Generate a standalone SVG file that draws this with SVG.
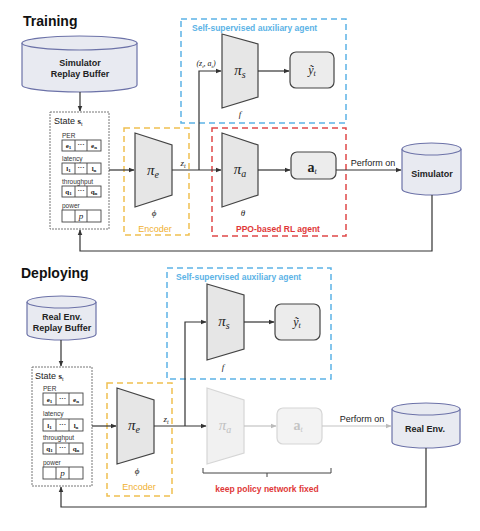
<svg xmlns="http://www.w3.org/2000/svg" width="480" height="531" viewBox="0 0 480 531">
<style>
.title{font-family:"Liberation Sans",Arial,sans-serif;font-weight:bold;font-size:14px;fill:#111}
.lbl{font-family:"Liberation Sans",Arial,sans-serif;font-weight:bold;font-size:9px;fill:#222;text-anchor:middle}
.sm{font-family:"Liberation Sans",Arial,sans-serif;font-size:6.5px;fill:#333}
.st{font-family:"Liberation Sans",Arial,sans-serif;font-size:9px;fill:#222}
.perf{font-family:"Liberation Sans",Arial,sans-serif;font-size:9px;fill:#222;text-anchor:middle}
.math{font-family:"Liberation Serif","Times New Roman",serif;font-style:italic;fill:#222;text-anchor:middle}
.bm{font-family:"Liberation Serif","Times New Roman",serif;font-weight:bold;fill:#222;text-anchor:middle}
.cell{font-family:"Liberation Serif",serif;font-weight:bold;font-size:7px;fill:#222;text-anchor:middle}
.cyl{fill:#e8eaf1;stroke:#6c72a8;stroke-width:1.2}
.trap{fill:#e6e6e6;stroke:#444;stroke-width:1.2}
.trapf{fill:#f1f1f1;stroke:#d6d6d6;stroke-width:1.2}
.rbox{fill:#ececec;stroke:#444;stroke-width:1.2}
.rboxf{fill:#f3f3f3;stroke:#d6d6d6;stroke-width:1.2}
.state{fill:#fff;stroke:#777;stroke-width:1;stroke-dasharray:2 1}
.row{fill:#fff;stroke:#444;stroke-width:0.9}
.blue{fill:none;stroke:#5cb3e6;stroke-width:1.5;stroke-dasharray:6 4}
.red{fill:none;stroke:#e04848;stroke-width:1.5;stroke-dasharray:6 4}
.yel{fill:none;stroke:#f0c050;stroke-width:1.5;stroke-dasharray:6 4}
.tb{font-family:"Liberation Sans",Arial,sans-serif;font-weight:bold;font-size:8.5px;fill:#5cb3e6}
.tr{font-family:"Liberation Sans",Arial,sans-serif;font-weight:bold;font-size:8.5px;fill:#e03838;text-anchor:middle}
.ty{font-family:"Liberation Sans",Arial,sans-serif;font-size:9px;fill:#f0b030;text-anchor:middle}
.c{fill:none;stroke:#333;stroke-width:1.2}
.cf{fill:none;stroke:#c4c4c4;stroke-width:1.2}
.dk{fill:#222}
</style>
<defs>
<marker id="ah" viewBox="0 0 10 10" refX="9" refY="5" markerWidth="5" markerHeight="5" orient="auto"><path d="M0,1 L10,5 L0,9 Z" fill="#333"/></marker>
<marker id="ahf" viewBox="0 0 10 10" refX="9" refY="5" markerWidth="5" markerHeight="5" orient="auto"><path d="M0,1 L10,5 L0,9 Z" fill="#bbb"/></marker>
</defs>
<rect width="480" height="531" fill="#fff"/>

<!-- ================= TRAINING ================= -->
<text class="title" x="23" y="26">Training</text>

<g id="t-replay">
<path class="cyl" d="M22,43 V85 A57.5,7 0 0 0 137,85 V43"/>
<ellipse class="cyl" cx="79.5" cy="43" rx="57.5" ry="7"/>
<text class="lbl" x="80" y="66">Simulator</text>
<text class="lbl" x="80" y="77">Replay Buffer</text>
</g>

<g id="t-state">
<rect class="state" x="50" y="112" width="59" height="117"/>
<text class="st" x="54" y="124">State <tspan font-family="Liberation Serif,serif" font-weight="bold">s</tspan><tspan font-family="Liberation Serif,serif" font-size="6" dy="2">t</tspan></text>
<text class="sm" x="62" y="138">PER</text>
<rect class="row" x="62" y="140" width="39" height="11"/>
<line class="row" x1="75" y1="140" x2="75" y2="151"/><line class="row" x1="87" y1="140" x2="87" y2="151"/>
<text class="cell" x="68.5" y="148">e<tspan font-size="5" dy="1">1</tspan></text>
<text class="cell" x="81" y="147" font-weight="normal">···</text>
<text class="cell" x="94" y="148">e<tspan font-size="5" dy="1">n</tspan></text>
<text class="sm" x="62" y="161">latency</text>
<rect class="row" x="62" y="163" width="39" height="11"/>
<line class="row" x1="75" y1="163" x2="75" y2="174"/><line class="row" x1="87" y1="163" x2="87" y2="174"/>
<text class="cell" x="68.5" y="171">l<tspan font-size="5" dy="1">1</tspan></text>
<text class="cell" x="81" y="170" font-weight="normal">···</text>
<text class="cell" x="94" y="171">l<tspan font-size="5" dy="1">n</tspan></text>
<text class="sm" x="62" y="184">throughput</text>
<rect class="row" x="62" y="186" width="39" height="11"/>
<line class="row" x1="75" y1="186" x2="75" y2="197"/><line class="row" x1="87" y1="186" x2="87" y2="197"/>
<text class="cell" x="68.5" y="194">q<tspan font-size="5" dy="1">1</tspan></text>
<text class="cell" x="81" y="193" font-weight="normal">···</text>
<text class="cell" x="94" y="194">q<tspan font-size="5" dy="1">n</tspan></text>
<text class="sm" x="62" y="208">power</text>
<rect class="row" x="62" y="210" width="39" height="12"/>
<line class="row" x1="75" y1="210" x2="75" y2="222"/><line class="row" x1="87" y1="210" x2="87" y2="222"/>
<text class="math" x="81" y="219" font-size="9">p</text>
</g>

<g id="t-encoder">
<rect class="yel" x="124" y="128" width="65" height="107"/>
<path class="trap" d="M135,133 L172,145 L172,195 L135,207 Z"/>
<text class="math" x="153" y="175" font-size="15" font-style="normal">π<tspan font-size="10" font-style="italic" dy="3">e</tspan></text>
<text class="math dk" x="154" y="216" font-size="9">ϕ</text>
<text class="ty" x="155" y="232">Encoder</text>
</g>

<g id="t-aux">
<rect class="blue" x="181" y="19" width="165" height="104"/>
<text class="tb" x="192" y="31">Self-supervised auxiliary agent</text>
<path class="trap" d="M222,34 L258,44 L258,97 L222,108 Z"/>
<text class="math" x="240" y="75" font-size="15" font-style="normal">π<tspan font-size="10" font-style="italic" dy="3">s</tspan></text>
<text class="math dk" x="240" y="117" font-size="9">f</text>
<rect class="rbox" x="290" y="52" width="44" height="36" rx="6"/>
<text class="math" x="312" y="74" font-size="12">ỹ<tspan font-size="8" dy="2">t</tspan></text>
</g>

<g id="t-ppo">
<rect class="red" x="212" y="128" width="134" height="108"/>
<path class="trap" d="M222,133 L258,145 L258,195 L222,207 Z"/>
<text class="math" x="240" y="174" font-size="15" font-style="normal">π<tspan font-size="10" font-style="italic" dy="3">a</tspan></text>
<text class="math dk" x="243" y="216" font-size="9">θ</text>
<rect class="rbox" x="291" y="152" width="45" height="27" rx="6"/>
<text class="bm" x="312" y="172" font-size="14">a<tspan font-size="8" font-style="italic" font-weight="normal" dy="2">t</tspan></text>
<text class="tr" x="278" y="232">PPO-based RL agent</text>
</g>

<g id="t-sim">
<path class="cyl" d="M402,149 V189 A29.5,6 0 0 0 461,189 V149"/>
<ellipse class="cyl" cx="431.5" cy="149" rx="29.5" ry="6"/>
<text class="lbl" x="432" y="177" font-size="8.5">Simulator</text>
</g>

<g id="t-connectors">
<path class="c" d="M80,92 V111" marker-end="url(#ah)"/>
<path class="c" d="M109,170 H134" marker-end="url(#ah)"/>
<path class="c" d="M172,170 H221" marker-end="url(#ah)"/>
<path class="c" d="M199,170 V71 H221" marker-end="url(#ah)"/>
<path class="c" d="M258,71 H289" marker-end="url(#ah)"/>
<path class="c" d="M258,170 H290" marker-end="url(#ah)"/>
<path class="c" d="M336,170 H401" marker-end="url(#ah)"/>
<path class="c" d="M432,195 V251 H80 V230" marker-end="url(#ah)"/>
<text class="math" x="183" y="166" font-size="9">z<tspan font-size="6" dy="2">t</tspan></text>
<text class="math" x="206" y="66" font-size="8" font-style="normal" font-weight="normal">(<tspan font-style="italic">z</tspan><tspan font-size="5" font-style="italic" dy="1.5">t</tspan><tspan dy="-1.5">, </tspan><tspan>a</tspan><tspan font-size="5" font-style="italic" dy="1.5">t</tspan><tspan dy="-1.5">)</tspan></text>
<text class="perf" x="373" y="166">Perform on</text>
</g>

<!-- ================= DEPLOYING ================= -->
<text class="title" x="21" y="278">Deploying</text>

<g id="d-replay">
<path class="cyl" d="M27,302 V334 A34.5,6 0 0 0 96,334 V302"/>
<ellipse class="cyl" cx="61.5" cy="302" rx="34.5" ry="6"/>
<text class="lbl" x="62" y="320">Real Env.</text>
<text class="lbl" x="62" y="331">Replay Buffer</text>
</g>

<g id="d-state">
<rect class="state" x="32" y="367" width="60" height="119"/>
<text class="st" x="35" y="379">State <tspan font-family="Liberation Serif,serif" font-weight="bold">s</tspan><tspan font-family="Liberation Serif,serif" font-size="6" dy="2">t</tspan></text>
<text class="sm" x="43" y="391">PER</text>
<rect class="row" x="43" y="393" width="40" height="12"/>
<line class="row" x1="56" y1="393" x2="56" y2="405"/><line class="row" x1="69" y1="393" x2="69" y2="405"/>
<text class="cell" x="49.5" y="402">e<tspan font-size="5" dy="1">1</tspan></text>
<text class="cell" x="62.5" y="401" font-weight="normal">···</text>
<text class="cell" x="76" y="402">e<tspan font-size="5" dy="1">n</tspan></text>
<text class="sm" x="43" y="416">latency</text>
<rect class="row" x="43" y="419" width="40" height="12"/>
<line class="row" x1="56" y1="419" x2="56" y2="431"/><line class="row" x1="69" y1="419" x2="69" y2="431"/>
<text class="cell" x="49.5" y="428">l<tspan font-size="5" dy="1">1</tspan></text>
<text class="cell" x="62.5" y="427" font-weight="normal">···</text>
<text class="cell" x="76" y="428">l<tspan font-size="5" dy="1">n</tspan></text>
<text class="sm" x="43" y="440">throughput</text>
<rect class="row" x="43" y="443" width="40" height="11"/>
<line class="row" x1="56" y1="443" x2="56" y2="454"/><line class="row" x1="69" y1="443" x2="69" y2="454"/>
<text class="cell" x="49.5" y="451">q<tspan font-size="5" dy="1">1</tspan></text>
<text class="cell" x="62.5" y="450" font-weight="normal">···</text>
<text class="cell" x="76" y="451">q<tspan font-size="5" dy="1">n</tspan></text>
<text class="sm" x="43" y="465">power</text>
<rect class="row" x="43" y="467" width="40" height="12"/>
<line class="row" x1="56" y1="467" x2="56" y2="479"/><line class="row" x1="69" y1="467" x2="69" y2="479"/>
<text class="math" x="62.5" y="476" font-size="9">p</text>
</g>

<g id="d-encoder">
<rect class="yel" x="107" y="383" width="65" height="113"/>
<path class="trap" d="M117,388 L154,400 L154,453 L117,464 Z"/>
<text class="math" x="134" y="430" font-size="15" font-style="normal">π<tspan font-size="10" font-style="italic" dy="3">e</tspan></text>
<text class="math dk" x="137" y="474" font-size="9">ϕ</text>
<text class="ty" x="139" y="490">Encoder</text>
</g>

<g id="d-aux">
<rect class="blue" x="167" y="268" width="164" height="111"/>
<text class="tb" x="176" y="280">Self-supervised auxiliary agent</text>
<path class="trap" d="M207,284 L244,295 L244,349 L207,360 Z"/>
<text class="math" x="224" y="326" font-size="15" font-style="normal">π<tspan font-size="10" font-style="italic" dy="3">s</tspan></text>
<text class="math dk" x="223" y="370" font-size="9">f</text>
<rect class="rbox" x="275" y="304" width="45" height="36" rx="6"/>
<text class="math" x="297" y="326" font-size="12">ỹ<tspan font-size="8" dy="2">t</tspan></text>
</g>

<g id="d-policy">
<path class="trapf" d="M207,388 L244,400 L244,453 L207,464 Z"/>
<text class="math" x="225" y="430" font-size="15" font-style="normal" style="fill:#c0c0c0">π<tspan font-size="10" font-style="italic" dy="3">a</tspan></text>
<rect class="rboxf" x="277" y="408" width="45" height="36" rx="6"/>
<text class="bm" x="298" y="430" font-size="14" style="fill:#c4c4c4">a<tspan font-size="8" font-style="italic" font-weight="normal" dy="2">t</tspan></text>
<path d="M203,468 V473 H331 V468 M267,473 V477" fill="none" stroke="#444" stroke-width="1"/>
<text class="tr" x="267" y="492">keep policy network fixed</text>
</g>

<g id="d-realenv">
<path class="cyl" d="M392,409 V442 A34,6 0 0 0 460,442 V409"/>
<ellipse class="cyl" cx="426" cy="409" rx="34" ry="6"/>
<text class="lbl" x="425" y="432" font-size="8.5">Real Env.</text>
</g>

<g id="d-connectors">
<path class="c" d="M61,340 V366" marker-end="url(#ah)"/>
<path class="c" d="M92,426 H116" marker-end="url(#ah)"/>
<path class="c" d="M154,426 H206" marker-end="url(#ah)"/>
<path class="c" d="M185,426 V322 H206" marker-end="url(#ah)"/>
<path class="c" d="M244,322 H274" marker-end="url(#ah)"/>
<path class="cf" d="M244,426 H276" marker-end="url(#ahf)"/>
<path class="cf" d="M322,426 H391" marker-end="url(#ahf)"/>
<path class="c" d="M426,448 V507 H61 V487" marker-end="url(#ah)"/>
<text class="math" x="166" y="422" font-size="9">z<tspan font-size="6" dy="2">t</tspan></text>
<text class="perf" x="362" y="422">Perform on</text>
</g>
</svg>
